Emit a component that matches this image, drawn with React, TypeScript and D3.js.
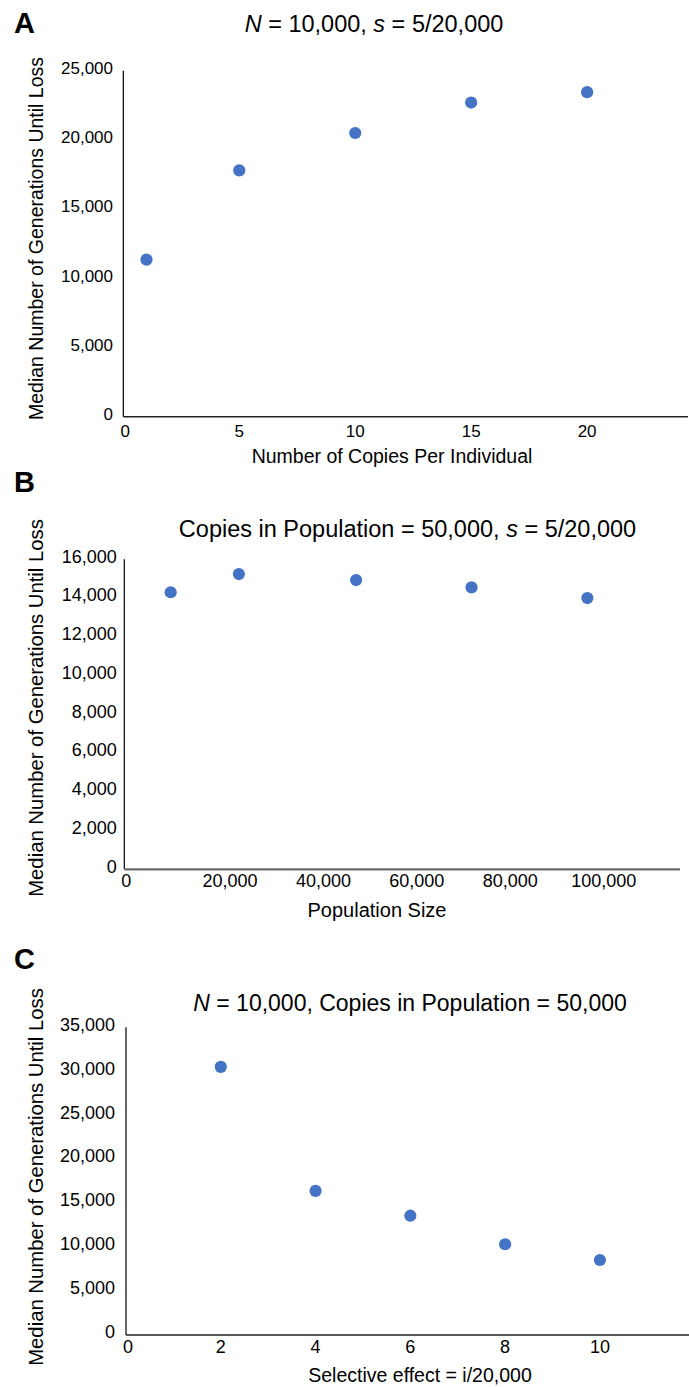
import React from 'react';
import * as d3 from 'd3';

// panel A: copies per individual
const copiesPerIndividual = [1, 5, 10, 15, 20];
const medianGensA = [11350, 17800, 20500, 22700, 23450];
const xTicksA = [0, 5, 10, 15, 20];
const yTicksA = [0, 5000, 10000, 15000, 20000, 25000];

// panel B: population size
const populationSize = [7300, 21900, 47000, 71700, 96500];
const medianGensB = [14300, 15240, 14930, 14550, 14000];
const xTicksB = [0, 20000, 40000, 60000, 80000, 100000];
const yTicksB = [0, 2000, 4000, 6000, 8000, 10000, 12000, 14000, 16000];

// panel C: selective effect
const selectiveEffect = [2, 4, 6, 8, 10];
const medianGensC = [30500, 16400, 13570, 10320, 8530];
const xTicksC = [0, 2, 4, 6, 8, 10];
const yTicksC = [0, 5000, 10000, 15000, 20000, 25000, 30000, 35000];

const yTitle = 'Median Number of Generations Until Loss';
const FONT = '"Liberation Sans", Arial, Helvetica, sans-serif';
const DOT = '#4472C4';
const fmt = d3.format(',');

const panels = [
  {
    letter: 'A', letterY: 33,
    title: [['N', true], [' = 10,000, ', false], ['s', true], [' = 5/20,000', false]],
    titleX: 374, titleY: 31.5, titleSize: 23.5,
    xs: copiesPerIndividual, ys: medianGensA, xTicks: xTicksA, yTicks: yTicksA,
    xDomain: [0, 24.35], yDomain: [0, 25000],
    left: 123.3, right: 688, top: 70.7, bottom: 416.7,
    tickSize: 17, yLabelX: 113, xLabelDy: 20,
    xAxisColor: '#222', xAxisWidth: 1.6,
    xTitle: 'Number of Copies Per Individual', xTitleX: 392, xTitleY: 462.5, xTitleSize: 19.5,
    yTitleY: 238.5, yTitleSize: 19.5,
  },
  {
    letter: 'B', letterY: 492,
    title: [['Copies in Population = 50,000, ', false], ['s', true], [' = 5/20,000', false]],
    titleX: 407.5, titleY: 536.7, titleSize: 23.5,
    xs: populationSize, ys: medianGensB, xTicks: xTicksB, yTicks: yTicksB,
    xDomain: [-2630, 116335], yDomain: [0, 16000],
    left: 124.3, right: 680, top: 559.3, bottom: 869.3,
    tickSize: 18, yLabelX: 116.7, xLabelDy: 17.4,
    xAxisColor: '#6b6b6b', xAxisWidth: 2.2,
    xTitle: 'Population Size', xTitleX: 377, xTitleY: 916.7, xTitleSize: 20,
    yTitleY: 708, yTitleSize: 20.3,
  },
  {
    letter: 'C', letterY: 969,
    title: [['N', true], [' = 10,000, Copies in Population = 50,000', false]],
    titleX: 410, titleY: 1010.7, titleSize: 23,
    xs: selectiveEffect, ys: medianGensC, xTicks: xTicksC, yTicks: yTicksC,
    xDomain: [0, 11.88], yDomain: [0, 35000],
    left: 126, right: 689, top: 1027.3, bottom: 1335,
    tickSize: 18, yLabelX: 115, xLabelDy: 17.7,
    xAxisColor: '#222', xAxisWidth: 1.6,
    xTitle: 'Selective effect = i/20,000', xTitleX: 420, xTitleY: 1381.7, xTitleSize: 19.5,
    yTitleY: 1177, yTitleSize: 20.3,
  },
];

const Panel = ({ p }) => {
  const x = d3.scaleLinear().domain(p.xDomain).range([p.left, p.right]);
  const y = d3.scaleLinear().domain(p.yDomain).range([p.bottom, p.top]);
  const x0 = x.range()[0];
  const y0 = y.range()[0];

  return (
    <g fontFamily={FONT} fill="#000">
      <text x={14} y={p.letterY} fontSize={29} fontWeight="bold">{p.letter}</text>
      <text x={p.titleX} y={p.titleY} fontSize={p.titleSize} textAnchor="middle">
        {p.title.map(([t, it], i) => (
          <tspan key={i} fontStyle={it ? 'italic' : 'normal'}>{t}</tspan>
        ))}
      </text>

      {/* y axis */}
      <line x1={x0} x2={x0} y1={y(p.yDomain[1])} y2={y0} stroke="#000" strokeWidth={1.2} />
      {p.yTicks.map(v => (
        <text key={v} x={p.yLabelX} y={y(v) + 3.3} fontSize={p.tickSize} textAnchor="end">{fmt(v)}</text>
      ))}

      {/* x axis */}
      <line x1={x0} x2={x.range()[1]} y1={y0} y2={y0} stroke={p.xAxisColor} strokeWidth={p.xAxisWidth} />
      {p.xTicks.map(v => (
        // the zero label sits on the y axis, like the spreadsheet draws it
        <text key={v} x={v === 0 ? x0 + 2 : x(v)} y={y0 + p.xLabelDy} fontSize={p.tickSize} textAnchor="middle">{fmt(v)}</text>
      ))}

      <text x={p.xTitleX} y={p.xTitleY} fontSize={p.xTitleSize} textAnchor="middle">{p.xTitle}</text>
      <text transform={`translate(42.5,${p.yTitleY}) rotate(-90)`} fontSize={p.yTitleSize} textAnchor="middle">{yTitle}</text>

      {p.xs.map((d, i) => (
        <circle key={i} cx={x(d)} cy={y(p.ys[i])} r={6.1} fill={DOT} />
      ))}
    </g>
  );
};

export default function App() {
  return (
    <svg width={689} height={1387} style={{ position: 'absolute', left: 0, top: 0, background: '#fff' }}>
      <rect width={689} height={1387} fill="#fff" />
      {panels.map(p => <Panel key={p.letter} p={p} />)}
    </svg>
  );
}
